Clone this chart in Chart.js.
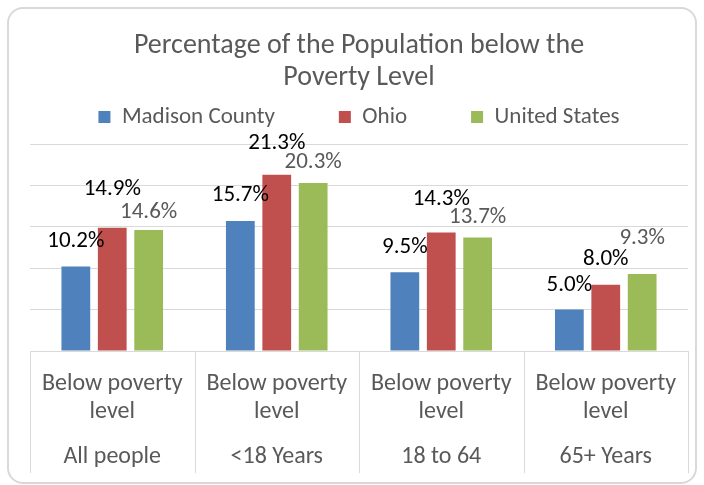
<!DOCTYPE html>
<html>
<head>
<meta charset="utf-8">
<script src="https://cdn.jsdelivr.net/npm/chart.js@4.4.1/dist/chart.umd.min.js"></script>
<style>
  body { margin: 0; background: #fff; }
  #wrap { position: relative; width: 704px; height: 485px; }
  #frame {
    position: absolute; left: 7px; top: 7px; width: 686px; height: 473px;
    border: 2px solid #d9d9d9; border-radius: 16px; pointer-events: none;
  }
</style>
</head>
<body>
<div id="wrap">
  <canvas id="myChart" width="704" height="485"></canvas>
  <div id="frame"></div>
</div>
<script>
// data
const categories = ['All people', '<18 Years', '18 to 64', '65+ Years'];
const subLabel = ['Below poverty', 'level'];
const seriesNames = ['Madison County', 'Ohio', 'United States'];
const madison = [10.2, 15.7, 9.5, 5.0];
const ohio = [14.9, 21.3, 14.3, 8.0];
const unitedStates = [14.6, 20.3, 13.7, 9.3];
const yTicks = [0, 5, 10, 15, 20, 25];

const gray = '#595959';
const lineGray = '#d9d9d9';

// data labels were dragged around by hand in the original, so each one has its own lift
const barLabels = {
  id: 'barLabels',
  afterDatasetsDraw(chart, args, opts) {
    const ctx = chart.ctx;
    ctx.save();
    ctx.font = '23px Carlito';
    ctx.textAlign = 'center';
    ctx.textBaseline = 'middle';
    chart.data.datasets.forEach((ds, i) => {
      const meta = chart.getDatasetMeta(i);
      ctx.fillStyle = opts.colors[i];
      meta.data.forEach((bar, j) => {
        ctx.fillText(ds.data[j].toFixed(1) + '%', bar.x, bar.y - opts.lift[i][j]);
      });
    });
    ctx.restore();
  }
};

// two-level category axis with boxed cells, like the spreadsheet original
const categoryBoxes = {
  id: 'categoryBoxes',
  afterDraw(chart) {
    const {ctx, chartArea, scales: {x}} = chart;
    const n = categories.length;
    const bottom = chartArea.bottom;
    ctx.save();
    ctx.strokeStyle = lineGray;
    ctx.lineWidth = 1;
    for (let i = 0; i <= n; i++) {
      let px;
      if (i === 0) px = x.left;
      else if (i === n) px = x.right;
      else px = (x.getPixelForValue(i - 1) + x.getPixelForValue(i)) / 2;
      px = Math.round(px) + 0.5;
      ctx.beginPath();
      ctx.moveTo(px, bottom);
      ctx.lineTo(px, bottom + 122);
      ctx.stroke();
    }
    ctx.fillStyle = gray;
    ctx.font = '24px Carlito';
    ctx.textAlign = 'center';
    ctx.textBaseline = 'alphabetic';
    categories.forEach((cat, i) => {
      const cx = x.getPixelForValue(i);
      ctx.fillText(subLabel[0], cx, bottom + 39);
      ctx.fillText(subLabel[1], cx, bottom + 67);
      ctx.fillText(cat, cx, bottom + 112);
    });
    ctx.restore();
  }
};

const ctx = document.getElementById('myChart').getContext('2d');
const myChart = new Chart(ctx, {
  type: 'bar',
  data: {
    labels: categories,
    datasets: [
      { label: seriesNames[0], data: madison, backgroundColor: '#4F81BD' },
      { label: seriesNames[1], data: ohio, backgroundColor: '#C0504D' },
      { label: seriesNames[2], data: unitedStates, backgroundColor: '#9BBB59' }
    ]
  },
  options: {
    responsive: false,
    animation: false,
    categoryPercentage: 0.664,
    barPercentage: 0.79,
    layout: { padding: { top: 0, left: 30, right: 16, bottom: 134 } },
    scales: {
      x: {
        ticks: { display: false },
        grid: { display: false, drawTicks: false },
        border: { display: false }
      },
      // only there to leave the gap between legend and plot
      xTop: {
        type: 'category',
        position: 'top',
        ticks: { display: false },
        grid: { display: false, drawTicks: true, tickLength: 5.5 },
        border: { display: false }
      },
      y: {
        min: yTicks[0],
        max: yTicks[yTicks.length - 1],
        afterBuildTicks: axis => { axis.ticks = yTicks.map(v => ({ value: v })); },
        ticks: { display: false },
        grid: { color: lineGray, drawTicks: false },
        border: { display: false }
      }
    },
    plugins: {
      title: {
        display: true,
        text: ['Percentage of the Population below the', 'Poverty Level'],
        color: gray,
        font: { family: 'Carlito', size: 28, weight: 'normal', lineHeight: 1.15 },
        padding: { top: 29.7, bottom: -52.6 }
      },
      legend: {
        labels: {
          color: gray,
          font: { family: 'Carlito', size: 23 },
          boxWidth: 12,
          boxHeight: 12,
          padding: 64
        }
      },
      tooltip: { enabled: false },
      barLabels: {
        colors: ['#000000', '#000000', gray],
        lift: [
          [25, 26, 25.5, 24],
          [38, 31, 33, 25.6],
          [18, 21, 20, 36]
        ]
      }
    }
  },
  plugins: [barLabels, categoryBoxes]
});
</script>
</body>
</html>
